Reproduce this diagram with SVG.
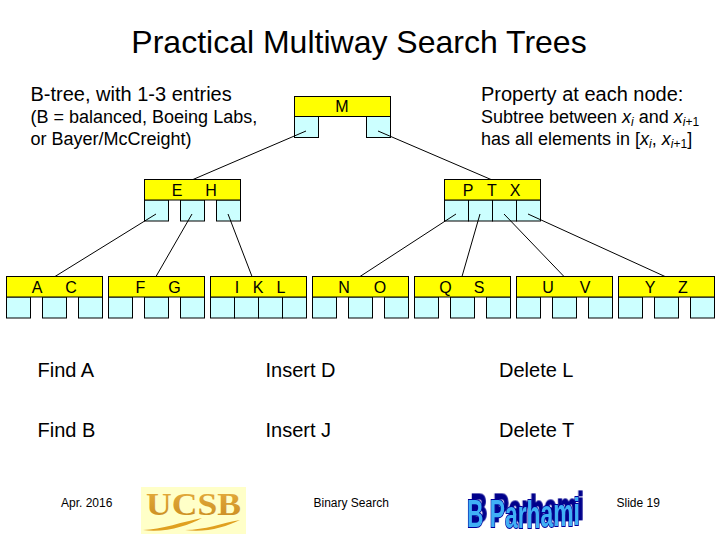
<svg xmlns="http://www.w3.org/2000/svg" width="720" height="540" viewBox="0 0 720 540">
<style>
text{font-family:"Liberation Sans",Arial,sans-serif;fill:#000}
.y{fill:#ffff00;stroke:#000;stroke-width:1}
.c{fill:#ccffff;stroke:#000;stroke-width:1}
.k{font-size:16px;text-anchor:middle}
.l{stroke:#000;stroke-width:1;fill:none}
.h{font-size:20px}
.s{font-size:18px}
.f{font-size:20px}
.t{font-size:12px}
.i{font-style:italic}
.sub{font-size:12px}
</style>
<defs>
<g id="s3"><rect class="c" x="0" y="20.5" width="24" height="21"/><rect class="c" x="36" y="20.5" width="24" height="21"/><rect class="c" x="72" y="20.5" width="24" height="21"/><rect class="y" x="0" y="0" width="96" height="20.5"/></g>
<g id="s4"><rect class="c" x="0" y="20.5" width="24" height="21"/><rect class="c" x="24" y="20.5" width="24" height="21"/><rect class="c" x="48" y="20.5" width="24" height="21"/><rect class="c" x="72" y="20.5" width="24" height="21"/><rect class="y" x="0" y="0" width="96" height="20.5"/></g>
<g id="s2"><rect class="c" x="0" y="20" width="24" height="21"/><rect class="c" x="72" y="20" width="24" height="21"/><rect class="y" x="0" y="0" width="96" height="20"/></g>
<linearGradient id="ug" x1="0" y1="0" x2="0" y2="1"><stop offset="0" stop-color="#e8b040"/><stop offset="1" stop-color="#c88a20"/></linearGradient>
<filter id="sh" x="-10%" y="-60%" width="125%" height="180%"><feDropShadow dx="4" dy="-3.500" stdDeviation="0" flood-color="#00008b"/></filter>
</defs>
<text x="359" y="53" font-size="32" text-anchor="middle">Practical Multiway Search Trees</text>
<text class="h" x="30.500" y="101">B-tree, with 1-3 entries</text>
<text class="s" x="30.500" y="123">(B = balanced, Boeing Labs,</text>
<text class="s" x="30.500" y="145">or Bayer/McCreight)</text>
<text class="h" x="481" y="101">Property at each node:</text>
<text class="s" x="481" y="123">Subtree between <tspan class="i">x</tspan><tspan class="i sub" dy="3">i</tspan><tspan dy="-3"> and </tspan><tspan class="i">x</tspan><tspan class="i sub" dy="3">i</tspan><tspan class="sub">+1</tspan></text>
<text class="s" x="481" y="145">has all elements in [<tspan class="i">x</tspan><tspan class="i sub" dy="3">i</tspan><tspan dy="-3">, </tspan><tspan class="i">x</tspan><tspan class="i sub" dy="3">i</tspan><tspan class="sub">+1</tspan><tspan dy="-3">]</tspan></text>

<g id="node-M"><use href="#s2" transform="translate(294.500,96.500)"/><text class="k" x="342" y="112" font-size="15">M</text></g>
<g id="node-EH"><use href="#s3" transform="translate(144.500,179.500)"/><text class="k" x="177" y="196">E</text><text class="k" x="211" y="196">H</text></g>
<g id="node-PTX"><use href="#s4" transform="translate(444.500,179.500)"/><text class="k" x="468" y="196">P</text><text class="k" x="492" y="196">T</text><text class="k" x="515" y="196">X</text></g>
<g id="node-AC"><use href="#s3" transform="translate(6.500,276.500)"/><text class="k" x="37" y="293">A</text><text class="k" x="71" y="293">C</text></g>
<g id="node-FG"><use href="#s3" transform="translate(108.500,276.500)"/><text class="k" x="140.500" y="293">F</text><text class="k" x="174.500" y="293">G</text></g>
<g id="node-IKL"><use href="#s4" transform="translate(210.500,276.500)"/><text class="k" x="237" y="293">I</text><text class="k" x="258" y="293">K</text><text class="k" x="281" y="293">L</text></g>
<g id="node-NO"><use href="#s3" transform="translate(312.500,276.500)"/><text class="k" x="344" y="293">N</text><text class="k" x="380" y="293">O</text></g>
<g id="node-QS"><use href="#s3" transform="translate(414.500,276.500)"/><text class="k" x="445.500" y="293">Q</text><text class="k" x="479" y="293">S</text></g>
<g id="node-UV"><use href="#s3" transform="translate(516.500,276.500)"/><text class="k" x="548" y="293">U</text><text class="k" x="585" y="293">V</text></g>
<g id="node-YZ"><use href="#s3" transform="translate(618.500,276.500)"/><text class="k" x="650" y="293">Y</text><text class="k" x="683" y="293">Z</text></g>

<g id="connectors">
<line class="l" x1="306" y1="131" x2="193" y2="179.500"/>
<line class="l" x1="378" y1="131" x2="491" y2="179.500"/>
<line class="l" x1="156" y1="214" x2="55" y2="276.500"/>
<line class="l" x1="192" y1="214" x2="156" y2="276.500"/>
<line class="l" x1="228" y1="214" x2="252" y2="276.500"/>
<line class="l" x1="456" y1="214" x2="360" y2="276.500"/>
<line class="l" x1="480" y1="214" x2="462" y2="276.500"/>
<line class="l" x1="504" y1="214" x2="564" y2="276.500"/>
<line class="l" x1="528" y1="214" x2="665" y2="276.500"/>
</g>

<text class="f" x="37.500" y="377">Find A</text>
<text class="f" x="265.500" y="377">Insert D</text>
<text class="f" x="499" y="377">Delete L</text>
<text class="f" x="37.500" y="437">Find B</text>
<text class="f" x="265.500" y="437">Insert J</text>
<text class="f" x="499" y="437">Delete T</text>
<text class="t" x="61" y="507">Apr. 2016</text>
<text class="t" x="313.500" y="507">Binary Search</text>
<text class="t" x="616.500" y="507">Slide 19</text>

<g id="logo-ucsb">
<rect x="141" y="487" width="105" height="47" fill="#ffffc8"/>
<text x="193.500" y="515" font-size="32" font-weight="bold" text-anchor="middle" textLength="95" lengthAdjust="spacingAndGlyphs" style="font-family:'Liberation Serif',serif;fill:url(#ug)">UCSB</text>
<path d="M143 530C160 530 185 521 202 518C188 526 165 533 143 530Z" fill="#e0a020"/>
<path d="M185 530C205 530 222 523 240 520C226 527 205 533 185 530Z" fill="#e0a020"/>
</g>
<g id="logo-parhami">
<text transform="translate(467,527) scale(.95,1.6)" font-size="24" font-weight="bold" filter="url(#sh)" style="fill:#3fb0f5;stroke:#00009a;stroke-width:1.200;paint-order:stroke">B P<tspan dy="0.500">a</tspan>rh<tspan dy="-0.500">a</tspan><tspan dy="-0.500">m</tspan><tspan dy="-0.500">i</tspan></text>
</g>
</svg>
